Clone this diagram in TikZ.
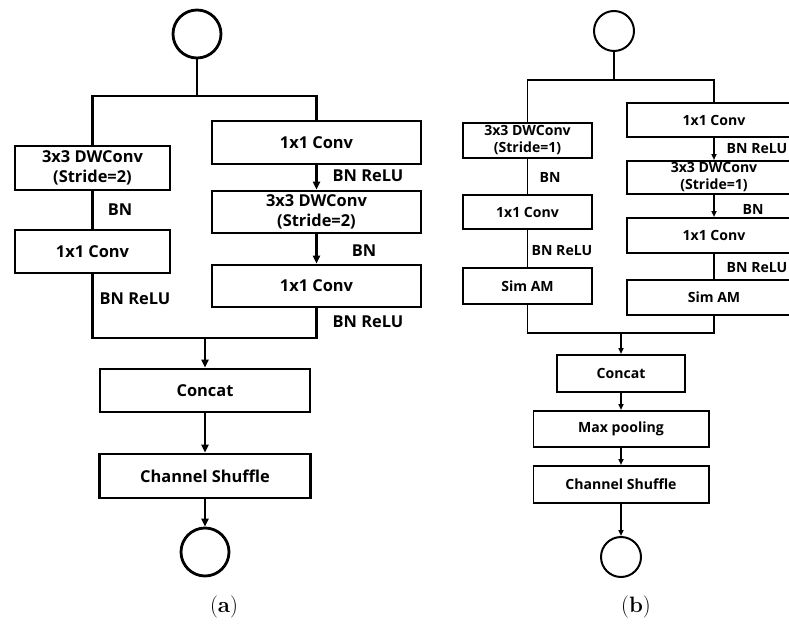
\documentclass[tikz,border=0pt]{standalone}
\usepackage{fontspec}
\setsansfont{Open Sans}
\usetikzlibrary{arrows.meta, positioning}

\tikzset{
    boxA/.style={rectangle, draw, line width=2.4pt, align=center, inner sep=0pt,
        font=\sffamily\bfseries\fontsize{14}{17.5}\selectfont},
    boxB/.style={rectangle, draw, line width=1.7pt, align=center, inner sep=0pt,
        font=\sffamily\bfseries\fontsize{12}{14.5}\selectfont},
    ringA/.style={circle, draw, line width=2.4pt, minimum size=14.4mm, inner sep=0pt},
    ringB/.style={circle, draw, line width=1.7pt, minimum size=12mm, inner sep=0pt},
    tagA/.style={font=\sffamily\bfseries\fontsize{14}{17.5}\selectfont, inner sep=0pt},
    tagB/.style={font=\sffamily\bfseries\fontsize{12}{14.5}\selectfont, inner sep=0pt},
    lineA/.style={line width=2.4pt},
    lineB/.style={line width=1.7pt},
    arrowA/.style={lineA, -{Triangle[length=2.4mm, width=2.1mm]}},
    arrowB/.style={lineB, -{Triangle[length=1.8mm, width=1.5mm]}},
    caption/.style={font=\fontsize{19}{22}\selectfont, inner sep=0pt},
}

\begin{document}
\begin{tikzpicture}[x=0.3mm, y=-0.3mm]
    \useasboundingbox (0,0) rectangle (789,624);
    \clip (0,0) rectangle (789,624);

    % (a) stride 2 unit
    \node[ringA] (inA) at (197,34) {};
    \coordinate (splitA) at (197,96);
    \node[boxA, minimum width=46.5mm, minimum height=13.2mm] (aL1) at (92.5,168) {3x3 DWConv\\(Stride=2)};
    \node[boxA, minimum width=46.5mm, minimum height=12.9mm] (aL2) at (92.5,251.5) {1x1 Conv};
    \node[boxA, minimum width=62.7mm, minimum height=12.9mm] (aR1) at (316.5,142.5) {1x1 Conv};
    \node[boxA, minimum width=62.7mm, minimum height=12.6mm] (aR2) at (316.5,212) {3x3 DWConv\\(Stride=2)};
    \node[boxA, minimum width=62.7mm, minimum height=12.6mm] (aR3) at (316.5,286) {1x1 Conv};
    \coordinate (mergeA) at (205,338);
    \node[boxA, minimum width=63mm, minimum height=12.9mm] (aCat) at (205,390.5) {Concat};
    \node[boxA, minimum width=63.3mm, minimum height=13.2mm] (aShuf) at (205,476) {Channel Shuffle};
    \node[ringA] (outA) at (205,552) {};

    \node[tagA] (aBN1) at (120,210) {BN};
    \node[tagA] (aAct1) at (135,299) {BN ReLU};
    \node[tagA] (aAct2) at (368,176) {BN ReLU};
    \node[tagA] (aBN2) at (364,251) {BN};
    \node[tagA] (aAct3) at (368,322) {BN ReLU};

    \draw[lineA] (inA) -- (splitA);
    \draw[lineA] (aL1.north) |- (splitA) -| (aR1.north);
    \draw[lineA] (aL1) -- (aL2);
    \draw[arrowA] (aR1) -- (aR2);
    \draw[arrowA] (aR2) -- (aR3);
    \draw[lineA] (aL2.south) |- (mergeA) -| (aR3.south);
    \draw[arrowA] (mergeA) -- (aCat);
    \draw[arrowA] (aCat) -- (aShuf);
    \draw[arrowA] (aShuf) -- (outA);
    \node[caption] (capA) at (224,607) {(\textbf{a})};

    % (b) stride 1 unit with SimAM
    \node[ringB] (inB) at (614,31) {};
    \coordinate (splitB) at (614,80);
    \node[boxB, minimum width=38.7mm, minimum height=10.5mm] (bL1) at (527.5,140.5) {3x3 DWConv\\(Stride=1)};
    \node[boxB, minimum width=38.7mm, minimum height=10.2mm] (bL2) at (527.5,212) {1x1 Conv};
    \node[boxB, minimum width=38.7mm, minimum height=10.8mm] (bL3) at (527.5,286) {Sim AM};
    \node[boxB, minimum width=52.2mm, minimum height=10.2mm] (bR1) at (714,120) {1x1 Conv};
    \node[boxB, minimum width=52.2mm, minimum height=9.9mm] (bR2) at (714,177.5) {3x3 DWConv\\(Stride=1)};
    \node[boxB, minimum width=52.2mm, minimum height=10.5mm] (bR3) at (714,235.5) {1x1 Conv};
    \node[boxB, minimum width=52.2mm, minimum height=10.5mm] (bR4) at (714,297.5) {Sim AM};
    \coordinate (mergeB) at (621,333);
    \node[boxB, minimum width=38.4mm, minimum height=11.1mm] (bCat) at (621,373.5) {Concat};
    \node[boxB, minimum width=52.5mm, minimum height=10.8mm] (bPool) at (621,429) {Max pooling};
    \node[boxB, minimum width=52.5mm, minimum height=11.1mm] (bShuf) at (621,484.5) {Channel Shuffle};
    \node[ringB] (outB) at (621,557) {};

    \node[tagB] (bBN1) at (550,177) {BN};
    \node[tagB] (bAct1) at (562,251) {BN ReLU};
    \node[tagB] (bAct2) at (757,149) {BN ReLU};
    \node[tagB] (bBN2) at (753,209) {BN};
    \node[tagB] (bAct3) at (757,268) {BN ReLU};

    \draw[lineB] (inB) -- (splitB);
    \draw[lineB] (bL1.north) |- (splitB) -| (bR1.north);
    \draw[lineB] (bL1) -- (bL2);
    \draw[lineB] (bL2) -- (bL3);
    \draw[arrowB] (bR1) -- (bR2);
    \draw[arrowB] (bR2) -- (bR3);
    \draw[lineB] (bR3) -- (bR4);
    \draw[lineB] (bL3.south) |- (mergeB) -| (bR4.south);
    \draw[arrowB] (mergeB) -- (bCat);
    \draw[arrowB] (bCat) -- (bPool);
    \draw[arrowB] (bPool) -- (bShuf);
    \draw[arrowB] (bShuf) -- (outB);
    \node[caption] (capB) at (636,607) {(\textbf{b})};
\end{tikzpicture}
\end{document}
